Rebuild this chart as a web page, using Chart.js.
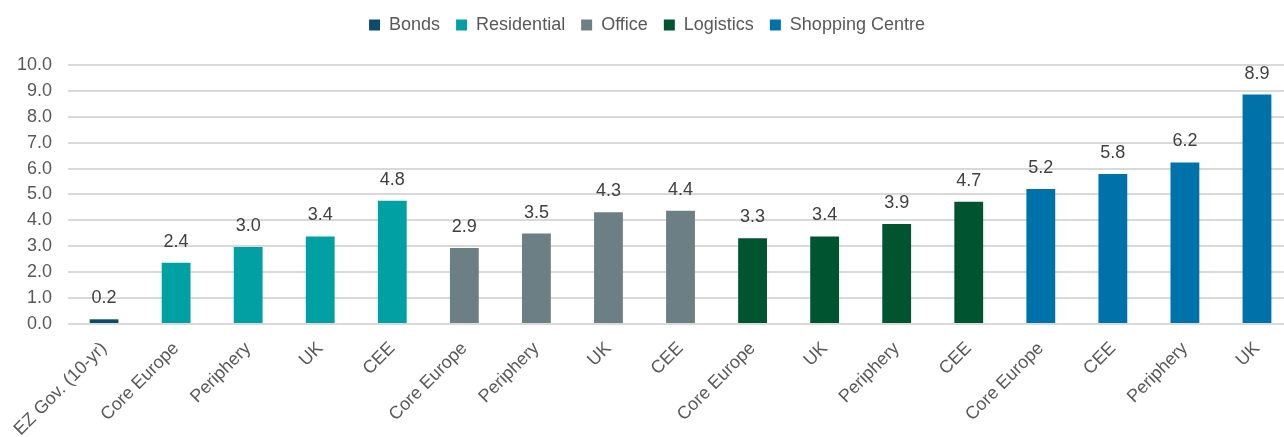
<!DOCTYPE html>
<html>
<head>
<meta charset="utf-8">
<script src="https://cdn.jsdelivr.net/npm/chart.js@4"></script>
<style>
  html, body { margin: 0; padding: 0; background: #fff; overflow: hidden; }
  #wrap { width: 1296px; height: 446px; position: relative; }
</style>
</head>
<body>
<div id="wrap"><canvas id="yieldChart"></canvas></div>
<script>
// categories along the x axis
const categories = ['EZ Gov. (10-yr)', 'Core Europe', 'Periphery', 'UK', 'CEE',
  'Core Europe', 'Periphery', 'UK', 'CEE',
  'Core Europe', 'UK', 'Periphery', 'CEE',
  'Core Europe', 'CEE', 'Periphery', 'UK'];

// yields in %
const yields = [0.18, 2.36, 2.97, 3.38, 4.76, 2.93, 3.49, 4.31, 4.37,
  3.31, 3.38, 3.86, 4.72, 5.21, 5.79, 6.24, 8.86];

// which sector each bar belongs to
const sectorOf = ['Bonds', 'Residential', 'Residential', 'Residential', 'Residential',
  'Office', 'Office', 'Office', 'Office',
  'Logistics', 'Logistics', 'Logistics', 'Logistics',
  'Shopping Centre', 'Shopping Centre', 'Shopping Centre', 'Shopping Centre'];

const sectors = ['Bonds', 'Residential', 'Office', 'Logistics', 'Shopping Centre'];
const sectorColors = ['#0C4A6E', '#00A0A3', '#6C7F85', '#005530', '#0072AA'];

const yTicks = [0, 1, 2, 3, 4, 5, 6, 7, 8, 9, 10];

// one dataset per sector, null where the bar belongs to another sector
const datasets = sectors.map(function(s, i) {
  return {
    label: s,
    data: yields.map(function(v, j) { return sectorOf[j] === s ? v : null; }),
    backgroundColor: sectorColors[i],
    borderWidth: 0,
    barPercentage: 0.4,
    categoryPercentage: 1,
    grouped: false
  };
});

// draw value labels above bars
const valueLabels = {
  id: 'valueLabels',
  afterDatasetsDraw(chart) {
    const ctx = chart.ctx;
    ctx.save();
    ctx.font = '18px "Liberation Sans", Arial, sans-serif';
    ctx.fillStyle = '#404040';
    ctx.textAlign = 'center';
    ctx.textBaseline = 'alphabetic';
    chart.data.datasets.forEach(function(ds, i) {
      chart.getDatasetMeta(i).data.forEach(function(bar, j) {
        if (ds.data[j] == null) return;
        ctx.fillText(ds.data[j].toFixed(1), bar.x, bar.y - 16);
      });
    });
    ctx.restore();
  }
};

// extra room under the legend
const legendGap = {
  id: 'legendGap',
  beforeInit(chart) {
    const fit = chart.legend.fit;
    chart.legend.fit = function() {
      fit.call(this);
      this.height += 21;
    };
  }
};

Chart.defaults.font.family = '"Liberation Sans", Arial, sans-serif';
Chart.defaults.color = '#595959';

new Chart(document.getElementById('yieldChart'), {
  type: 'bar',
  data: { labels: categories, datasets: datasets },
  plugins: [valueLabels, legendGap],
  options: {
    responsive: true,
    maintainAspectRatio: false,
    animation: false,
    layout: { padding: { left: 1, right: 3, top: 0, bottom: 0 } },
    plugins: {
      legend: {
        position: 'top',
        labels: { boxWidth: 11, boxHeight: 11, padding: 16, font: { size: 18 }, color: '#595959' }
      },
      tooltip: { enabled: false }
    },
    scales: {
      x: {
        grid: { display: false },
        border: { display: false },
        ticks: { maxRotation: 45, minRotation: 45, font: { size: 18 }, color: '#595959', autoSkip: false, padding: 6 },
        afterFit: function(scale) { scale.paddingLeft = 0; }
      },
      y: {
        min: 0,
        max: 10,
        afterBuildTicks: function(axis) { axis.ticks = yTicks.map(function(v) { return { value: v }; }); },
        grid: { color: '#D9D9D9', lineWidth: 2, drawTicks: false },
        border: { display: false },
        ticks: { padding: 16, font: { size: 18 }, color: '#595959',
          callback: function(v) { return v.toFixed(1); } }
      }
    }
  }
});
</script>
</body>
</html>
